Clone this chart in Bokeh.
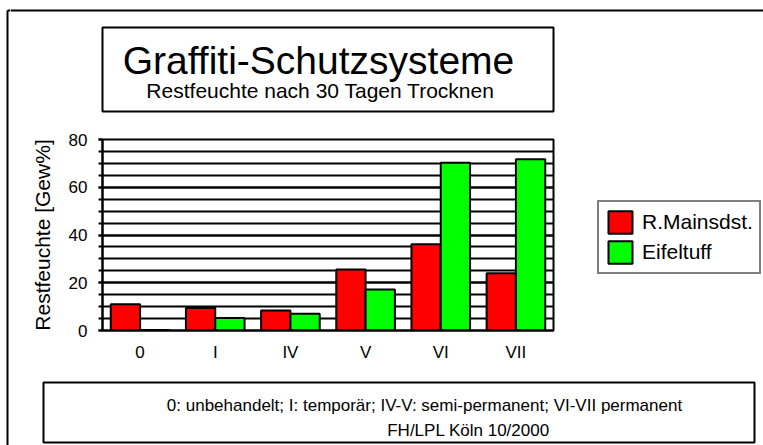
from bokeh.plotting import figure
from bokeh.layouts import row, column
from bokeh.models import (ColumnDataSource, FactorRange, Range1d, SingleIntervalTicker,
                          Legend, LegendItem)
from bokeh.core.properties import value
from bokeh.transform import dodge
from bokeh.embed import file_html
from bokeh.resources import INLINE

# ---- data ----
categories = ["0", "I", "IV", "V", "VI", "VII"]
mainsandstein = [11.0, 9.4, 8.4, 25.5, 36.1, 24.0]
eifeltuff = [0.2, 5.2, 7.0, 17.2, 70.3, 71.7]
series_names = ["R.Mainsdst.", "Eifeltuff"]
series_colors = ["#FF0000", "#00FF00"]
y_max = 80
y_tick_interval = 20
title_text = "Graffiti-Schutzsysteme"
subtitle_text = "Restfeuchte nach 30 Tagen Trocknen"
y_label = "Restfeuchte [Gew%]"
footer_lines = ["0: unbehandelt; I: temporär; IV-V: semi-permanent; VI-VII permanent",
                "FH/LPL Köln 10/2000"]

FONT = "Liberation Sans"
W, H = 763, 445


def canvas_fig(x0, x1, y0, y1):
    """A figure whose frame fills its canvas; data coords = page pixels (y down)."""
    f = figure(width=x1 - x0, height=y1 - y0, x_range=Range1d(x0, x1), y_range=Range1d(y1, y0),
               output_backend="svg", toolbar_location=None, min_border=0, title=None,
               x_axis_type=None, y_axis_type=None)
    f.xgrid.visible = False
    f.ygrid.visible = False
    f.outline_line_color = None
    f.background_fill_color = "white"
    f.border_fill_color = "white"
    return f


def box(f, l, r, t, b):
    f.quad(left=[l], right=[r], top=[t], bottom=[b], fill_color=None,
           line_color="black", line_width=2)


def txt(f, x, y, s, size):
    f.text(x=[x], y=[y], text=[s], text_font=value(FONT), text_font_size=value(size),
           text_align="center", text_baseline="middle", text_color="black")


# ---- left strip (outer frame, left side) ----
strip = canvas_fig(0, 10, 0, H)
strip.segment(x0=[7, 7], y0=[10, 10], x1=[7, 10], y1=[H, 10], line_color="black", line_width=2)

# ---- title strip ----
top = canvas_fig(10, W, 0, 128)
top.segment(x0=[10], y0=[10], x1=[W], y1=[10], line_color="black", line_width=2)
box(top, 102, 553, 27, 111)
txt(top, 318, 60, title_text, "39px")
txt(top, 320, 90, subtitle_text, "21px")

# ---- chart ----
CX0, CX1, CY0, CY1 = 10, 590, 128, 372
FL, FR, FT, FB = 102, 553, 139, 330
src = ColumnDataSource(dict(cat=categories, main=mainsandstein, eifel=eifeltuff))
p = figure(width=CX1 - CX0, height=CY1 - CY0,
           x_range=FactorRange(factors=categories, range_padding=0),
           y_range=Range1d(0, y_max), output_backend="svg", toolbar_location=None,
           min_border_left=FL - CX0, min_border_right=CX1 - FR, min_border_top=FT - CY0,
           min_border_bottom=CY1 - FB, title=None)
p.background_fill_color = "white"
p.border_fill_color = "white"
p.outline_line_color = "black"
p.outline_line_width = 2

p.xgrid.grid_line_color = None
p.yaxis.ticker = SingleIntervalTicker(interval=y_tick_interval, num_minor_ticks=4)
p.ygrid.grid_line_color = "black"
p.ygrid.grid_line_width = 2
p.ygrid.minor_grid_line_color = "black"
p.ygrid.minor_grid_line_width = 2

p.yaxis.axis_line_color = "black"
p.yaxis.axis_line_width = 2
p.yaxis.major_tick_out = 4
p.yaxis.major_tick_in = 0
p.yaxis.minor_tick_out = 4
p.yaxis.minor_tick_in = 0
p.yaxis.major_tick_line_width = 2
p.yaxis.minor_tick_line_width = 2
p.yaxis.major_label_standoff = 11
p.yaxis.major_label_text_font = FONT
p.yaxis.major_label_text_font_size = "17px"
p.yaxis.major_label_text_color = "black"
p.yaxis.axis_label = y_label
p.yaxis.axis_label_text_font = FONT
p.yaxis.axis_label_text_font_style = "normal"
p.yaxis.axis_label_text_font_size = "21px"
p.yaxis.axis_label_text_color = "black"
p.yaxis.axis_label_standoff = 12

p.xaxis.axis_line_color = "black"
p.xaxis.axis_line_width = 2
p.xaxis.major_tick_line_color = None
p.xaxis.minor_tick_line_color = None
p.xaxis.major_tick_out = 0
p.xaxis.major_tick_in = 0
p.xaxis.major_label_standoff = 12
p.xaxis.major_label_text_font = FONT
p.xaxis.major_label_text_font_size = "17px"
p.xaxis.major_label_text_color = "black"

p.vbar(x=dodge("cat", -0.195, range=p.x_range), top="main", width=0.39, source=src,
       fill_color=series_colors[0], line_color="black", line_width=2)
p.vbar(x=dodge("cat", 0.195, range=p.x_range), top="eifel", width=0.39, source=src,
       fill_color=series_colors[1], line_color="black", line_width=2)

# ---- legend panel (spacer above, legend figure below) ----
LX0, LY0 = 590, 193
spacer = canvas_fig(LX0, W, CY0, LY0)
lg = canvas_fig(LX0, W, LY0, CY1)
nan = float("nan")
# legend swatch renderers (no visible mark of their own)
lr1 = lg.vbar(x=[nan], top=[nan], width=1, fill_color=series_colors[0],
              line_color="black", line_width=2)
lr2 = lg.vbar(x=[nan], top=[nan], width=1, fill_color=series_colors[1],
              line_color="black", line_width=2)
legend = Legend(items=[LegendItem(label=series_names[0], renderers=[lr1]),
                       LegendItem(label=series_names[1], renderers=[lr2])],
                location="top_left", orientation="vertical",
                border_line_color="black", border_line_width=2, background_fill_color="white",
                background_fill_alpha=1, padding=6, spacing=2, margin=7,
                glyph_width=30, glyph_height=28, label_height=28, label_standoff=7,
                label_text_font=FONT, label_text_font_size="21px", label_text_color="black")
lg.add_layout(legend)

# ---- footer ----
foot = canvas_fig(10, W, CY1, H)
box(foot, 43, 754, 382, 442)
txt(foot, 424, 405, footer_lines[0], "17px")
txt(foot, 468, 430, footer_lines[1], "17px")

layout = row(strip, column(top, row(p, column(spacer, lg, spacing=0), spacing=0), foot,
                           spacing=0), spacing=0)
open("out.html", "w").write(file_html(layout, INLINE))
